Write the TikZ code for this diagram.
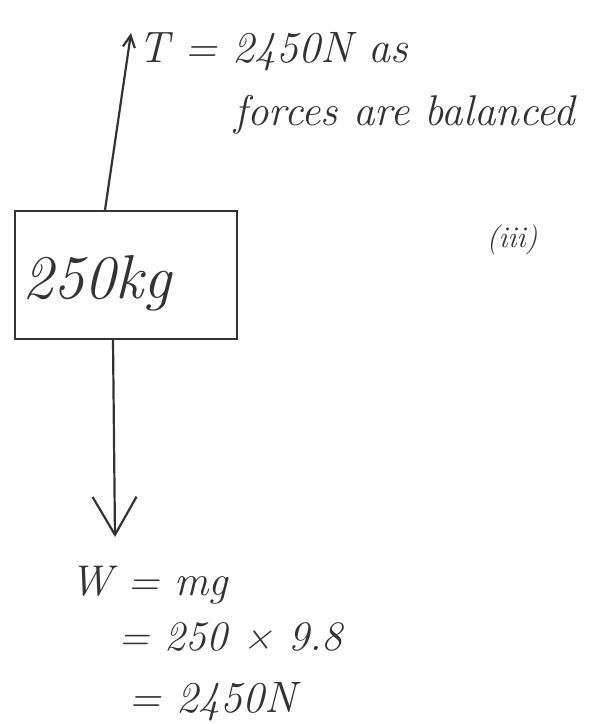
\documentclass[tikz,border=0pt]{standalone}
\usepackage{fontspec}
\usetikzlibrary{arrows.meta}
\definecolor{ink}{HTML}{333333}
\begin{document}
\begin{tikzpicture}[x=1pt,y=-1pt,
  pen/.style={draw=ink,line width=2.2pt,line cap=round},
  hand/.style={text=ink,inner sep=0pt,font=\itshape},
  smallhead/.style={-{Straight Barb[length=12pt,width=12pt,line width=2.2pt]}},
  bighead/.style={-{Straight Barb[length=38pt,width=44pt,line width=2.2pt]}}]
\useasboundingbox (0,0) rectangle (606,724);
% box
\node[pen,rectangle,minimum width=222pt,minimum height=128pt,anchor=north west,inner sep=0pt] (box) at (14,210) {};
% text
\node[hand,anchor=base west] (mass) at (22,298) {\fontsize{62}{70}\selectfont 250kg};
\node[hand,anchor=base west] (tlab) at (138,62) {\fontsize{44}{50}\selectfont T = 2450N as};
\node[hand,anchor=base west] (tlab2) at (234,125) {\fontsize{43}{48}\selectfont forces are balanced};
\node[hand] (part) at (512,240) {\fontsize{30}{34}\selectfont (iii)};
\node[hand,anchor=base west] (w1) at (70,595) {\fontsize{43}{50}\selectfont W = mg};
\node[hand,anchor=base west] (w2) at (118,650) {\fontsize{42}{50}\selectfont = 250 × 9.8};
\node[hand,anchor=base west] (w3) at (128,712) {\fontsize{44}{50}\selectfont = 2450N};
% arrows
\coordinate (ttip) at (131,33);
\coordinate (wtip) at (115,537);
\draw[pen,smallhead] (box.north -| 105,0) -- (ttip);
\draw[pen,bighead] (box.south -| 113,0) -- (wtip);
\end{tikzpicture}
\end{document}
